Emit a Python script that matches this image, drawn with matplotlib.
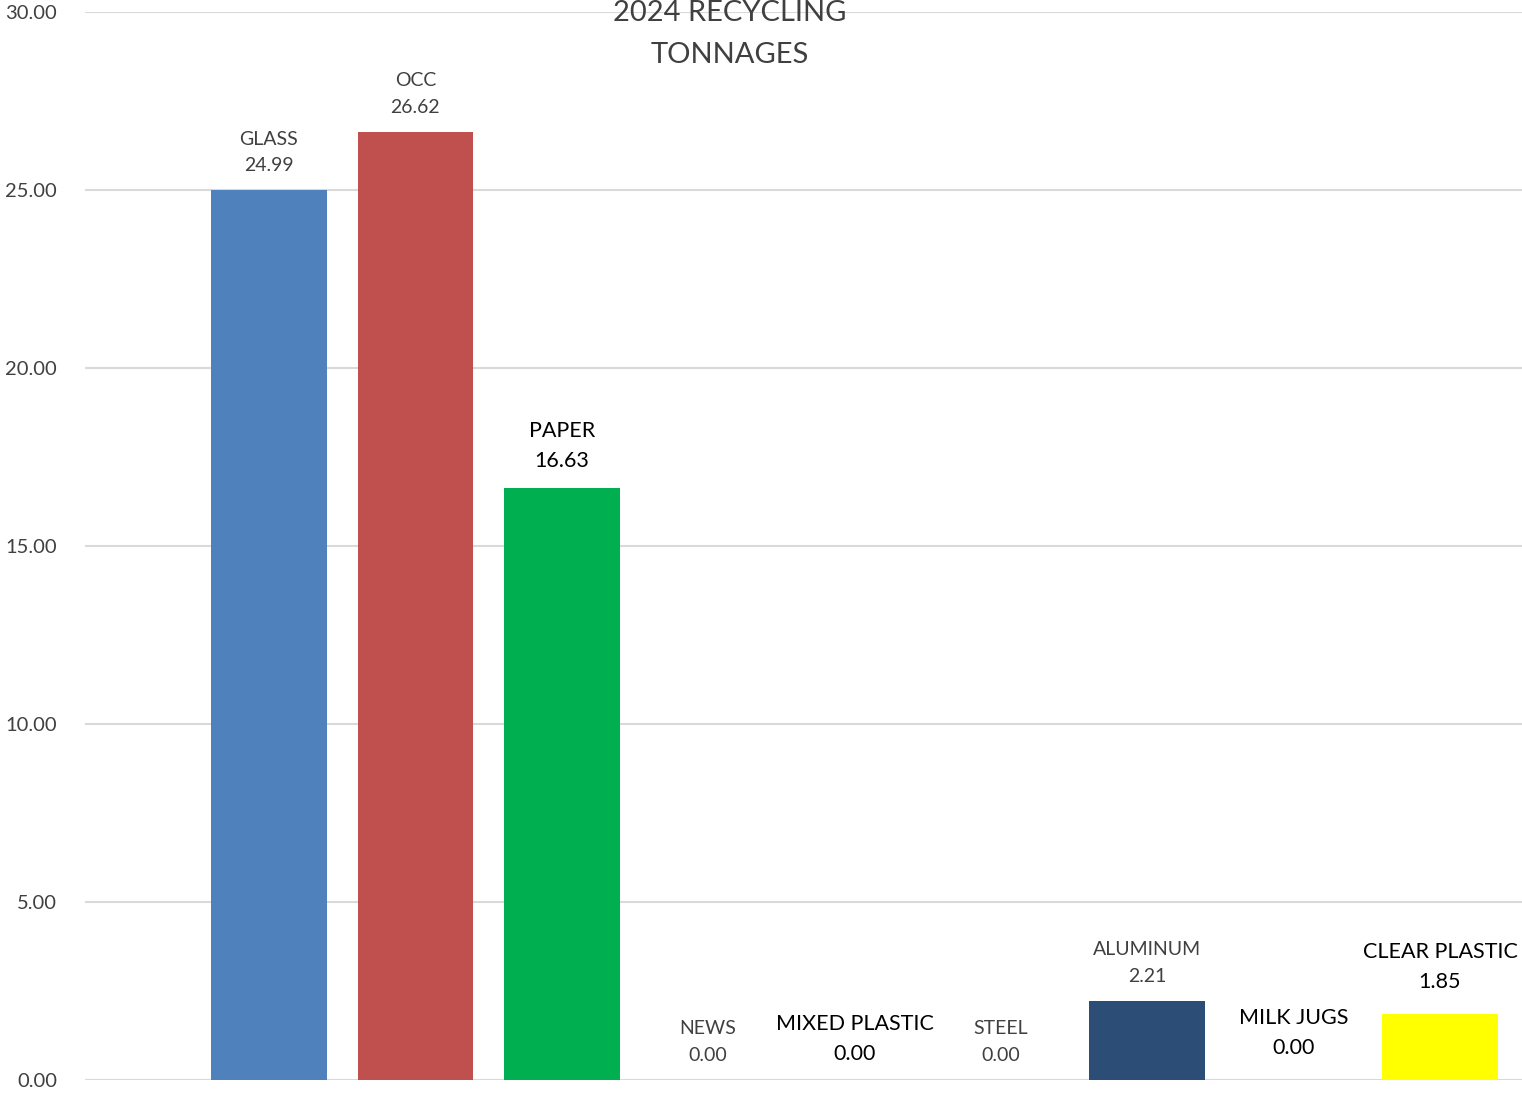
import numpy as np
import matplotlib
matplotlib.use("Agg")
from matplotlib import pyplot as plt

plt.rcParams['font.family'] = ['Lato', 'DejaVu Sans']

# data
categories = ["GLASS", "OCC", "PAPER", "NEWS", "MIXED PLASTIC", "STEEL",
              "ALUMINUM", "MILK JUGS", "CLEAR PLASTIC"]
tons = [24.99, 26.62, 16.63, 0.00, 0.00, 0.00, 2.21, 0.00, 1.85]

colors = ["#4F81BD", "#C0504D", "#00B050", "#4F81BD", "#4F81BD", "#4F81BD",
          "#2C4D75", "#4F81BD", "#FFFF00"]
# label look: (colour, size, pixel offset of label centre above bar top, spacing)
label_style = [("#404040", 14, 38, 1.69), ("#404040", 14, 38, 1.69),
               ("black", 15.5, 42, 1.6), ("#404040", 14, 38, 1.69),
               ("black", 15.5, 41, 1.6), ("#404040", 14, 38, 1.69),
               ("#404040", 14, 38, 1.69), ("black", 15.5, 47, 1.6),
               ("black", 15.5, 47, 1.6)]

fig = plt.figure(figsize=(15.22, 10.94), dpi=100)
ax = fig.add_axes([85/1522, 1 - 1080/1094, 1 - 85/1522, (1080 - 12)/1094])

x = np.arange(len(categories))
ax.bar(x, tons, width=0.79, color=colors, zorder=3)

for i in range(len(categories)):
    col, fs, off, ls = label_style[i]
    ax.annotate(categories[i] + "\n" + "%.2f" % tons[i], (x[i], tons[i]),
                xytext=(0, off), textcoords="offset pixels",
                ha="center", va="center", color=col, fontsize=fs,
                linespacing=ls, zorder=4)

ax.set_ylim(0, 30)
ax.set_xlim(-1.257, 8.56)
ax.set_yticks(np.arange(0, 31, 5))
ax.set_yticklabels(["%.2f" % v for v in np.arange(0, 31, 5)])
ax.set_xticks([])
ax.tick_params(axis="y", length=0, pad=20, labelsize=14.5, labelcolor="#404040")
ax.grid(axis="y", color="#D9D9D9", linewidth=1.5, zorder=0)
for s in ax.spines.values():
    s.set_visible(False)
ax.set_axisbelow(True)

fig.text(730/1522, 1 - 34/1094, "2024 RECYCLING\nTONNAGES", ha="center",
         va="center", fontsize=21, color="#404040", linespacing=1.75)

fig.savefig("out.png", dpi=100)
